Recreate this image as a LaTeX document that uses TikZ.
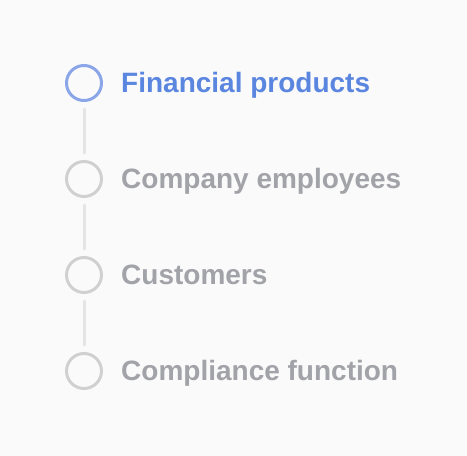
\documentclass[tikz,border=0pt]{standalone}
\usepackage{fontspec}
\setmainfont{Liberation Sans}
\usetikzlibrary{positioning}
\definecolor{pagebg}{HTML}{FAFAFA}
\definecolor{activeblue}{HTML}{5B86E0}
\definecolor{activering}{HTML}{8AA6E8}
\definecolor{idlegray}{HTML}{A2A3A8}
\definecolor{idlering}{HTML}{D0D0D0}
\definecolor{linkgray}{HTML}{E4E4E4}
\begin{document}
\begin{tikzpicture}[x=1pt, y=-1pt, line join = round, line cap = round]
			\pgfmathsetmacro\cx{84}
			\pgfmathsetmacro\gap{96}
			\tikzset{
				ring/.style={circle, draw=idlering, line width=3pt, minimum size=35pt, inner sep=0pt},
				activering/.style={ring, draw=activering},
				label/.style={anchor=base west, font=\fontsize{28}{30}\selectfont\bfseries, text=idlegray, inner sep=0pt},
				activelabel/.style={label, text=activeblue},
				link/.style={draw=linkgray, line width=3pt}
			}
			\fill[pagebg] (0,0) rectangle (467,456);
			\useasboundingbox (0,0) rectangle (467,456);
			\node[activering] (s1) at (\cx,83) {};
			\node[ring] (s2) at (\cx,83+\gap) {};
			\node[ring] (s3) at (\cx,83+2*\gap) {};
			\node[ring] (s4) at (\cx,83+3*\gap) {};
			\node[activelabel] (t1) at (121,92) {Financial products};
			\node[label] (t2) at (121,92+\gap) {Company employees};
			\node[label] (t3) at (121,92+2*\gap) {Customers};
			\node[label] (t4) at (121,92+3*\gap) {Compliance function};
			\foreach \a/\b in {s1/s2, s2/s3, s3/s4}
				\draw[link] ([yshift=-7pt]\a.south) -- ([yshift=7pt]\b.north);
		\end{tikzpicture}
\end{document}
